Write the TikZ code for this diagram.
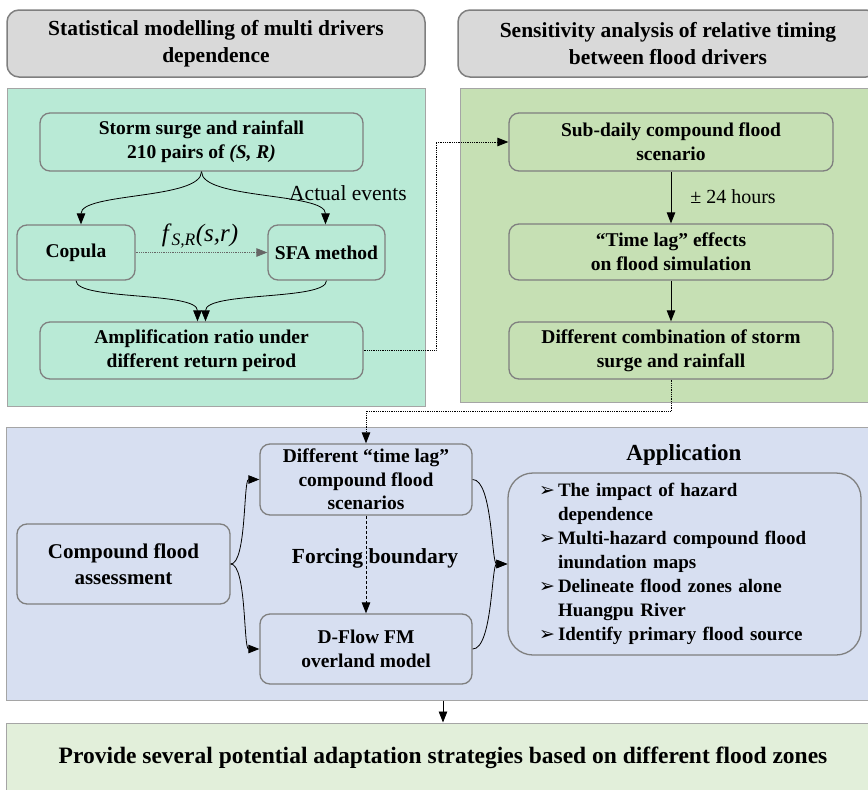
\documentclass[tikz,border=0pt]{standalone}
\usepackage{fontspec}
\setmainfont{Liberation Serif}
\newfontfamily\dejavu{DejaVu Sans}
\usetikzlibrary{arrows.meta,calc}
\definecolor{titlegray}{HTML}{D9D9D9}
\definecolor{bordergray}{HTML}{7F7F7F}
\definecolor{mint}{HTML}{B9EAD6}
\definecolor{olive}{HTML}{C6E0B4}
\definecolor{lblue}{HTML}{D7DFF1}
\definecolor{pgreen}{HTML}{E2EFDA}
\newcommand{\appbul}{\makebox[19pt][l]{\raisebox{0.5pt}{\dejavu\fontsize{19}{19}\selectfont ➢}}}
\begin{document}
\begin{tikzpicture}[x=1pt,y=-1pt,
  titlebox/.style={draw=bordergray, line width=1.5pt, fill=titlegray, rounded corners=12pt,
    align=center, font=\fontsize{21.5}{27}\selectfont\bfseries, inner sep=0pt},
  panel/.style={draw=bordergray!70, line width=1pt, inner sep=0pt},
  box/.style={draw=bordergray, line width=1.3pt, rounded corners=10pt, align=center,
    font=\fontsize{19.5}{24}\selectfont\bfseries, inner sep=0pt},
  arr/.style={-{Triangle[length=11pt,width=8.5pt]}, line width=0.8pt},
  dotarr/.style={arr, densely dotted},
  lbl/.style={inner sep=0pt}
]
\useasboundingbox (0,0) rectangle (868,790);
\clip (0,0) rectangle (868,790);

% titles
\node[titlebox, minimum width=418pt, minimum height=67pt] (t1) at (216,43.5)
  {Statistical modelling of multi drivers\\dependence};
\node[titlebox, minimum width=420pt, minimum height=67pt] (t2) at (668,43.5)
  {Sensitivity analysis of relative timing\\between flood drivers};

% panels
\node[panel, fill=mint, minimum width=418pt, minimum height=318pt] (lpanel) at (216,247) {};
\node[panel, fill=olive, minimum width=420pt, minimum height=314pt] (rpanel) at (670,245) {};
\node[panel, fill=lblue, minimum width=874pt, minimum height=273pt] (bpanel) at (443,563.5) {};
\node[panel, fill=pgreen, minimum width=874pt, minimum height=70pt,
  font=\fontsize{23.5}{26}\selectfont\bfseries] (final) at (443,758)
  {Provide several potential adaptation strategies based on different flood zones};

% left panel boxes
\node[box, fill=mint, minimum width=323pt, minimum height=58pt] (storm) at (201.5,142)
  {Storm surge and rainfall\\210 pairs of \textit{(S, R)}};
\node[box, fill=mint, minimum width=118pt, minimum height=55pt] (copula) at (76,252.5) {Copula};
\node[box, fill=mint, minimum width=117pt, minimum height=55pt] (sfa) at (326.5,252.5) {SFA method};
\node[box, fill=mint, minimum width=323pt, minimum height=57pt] (amp) at (201.5,350.5)
  {Amplification ratio under\\different return peirod};

% right panel boxes
\node[box, fill=olive, minimum width=324pt, minimum height=58pt] (sub) at (671,142)
  {Sub-daily compound flood\\scenario};
\node[box, fill=olive, minimum width=324pt, minimum height=56pt] (lag) at (671,252)
  {“Time lag” effects\\on flood simulation};
\node[box, fill=olive, minimum width=324pt, minimum height=57pt] (comb) at (671,350.5)
  {Different combination of storm\\surge and rainfall};

% lower panel boxes
\node[box, fill=lblue, minimum width=213pt, minimum height=80pt,
  font=\fontsize{21}{26}\selectfont\bfseries] (comp) at (123.5,564)
  {Compound flood\\assessment};
\node[box, fill=lblue, minimum width=212pt, minimum height=71pt,
  font=\fontsize{19.5}{23.5}\selectfont\bfseries] (tl) at (366,479.5)
  {Different “time lag”\\compound flood\\scenarios};
\node[box, fill=lblue, minimum width=212pt, minimum height=70pt] (dflow) at (366,649)
  {D-Flow FM\\overland model};
\node[box, fill=lblue, rounded corners=25pt, minimum width=353pt, minimum height=182pt,
  text width=291pt, align=left, font=\fontsize{19}{24}\selectfont\bfseries] (app) at (684.5,564)
  {\appbul The impact of hazard\\\hspace*{19pt}dependence\\
   \appbul Multi-hazard compound flood\\\hspace*{19pt}inundation maps\\
   \appbul Delineate flood zones alone\\\hspace*{19pt}Huangpu River\\
   \appbul Identify primary flood source};
\node[lbl, font=\fontsize{23}{26}\selectfont\bfseries] (applbl) at (684,455) {Application};

% labels
\node[lbl, font=\fontsize{21.5}{24}\selectfont] (actual) at (348,193) {Actual events};
\node[lbl, font=\fontsize{25}{26}\selectfont] (fsr) at (200,236)
  {\textit{f}\textsubscript{\textit{S,R}}\textit{(s,r)}};
\node[lbl, font=\fontsize{20}{24}\selectfont] (hours) at (733,197) {± 24 hours};
\node[lbl, font=\fontsize{21.5}{24}\selectfont\bfseries] (forcing) at (375,558) {Forcing boundary};

% left connectors
\draw[arr] (storm.south) .. controls +(0,28) and +(0,-32) .. ($(copula.north)+(5,0)$);
\draw[arr] (storm.south) .. controls +(0,28) and +(0,-32) .. ($(sfa.north)+(-1,0)$);
\draw[arr, densely dotted, draw=black!60] (copula.east) -- (sfa.west);
\draw[arr] (copula.south) .. controls +(0,20) and +(0,-30) .. ($(amp.north)+(-4,0)$);
\draw[arr] (sfa.south) .. controls +(0,20) and +(0,-30) .. ($(amp.north)+(4,0)$);

% cross connectors
\draw[dotarr] (amp.east) -| ($(amp.east)!0.5!(sub.west)$) |- (sub.west);
\draw[dotarr] (comb.south) |- ($(tl.north)+(0,-32)$) -- (tl.north);

% right connectors
\draw[arr] (sub.south) -- (lag.north);
\draw[arr] (lag.south) -- (comb.north);

% lower connectors
\draw[arr] (comp.east) .. controls +(16,0) and +(-16,0) .. (tl.west);
\draw[arr] (comp.east) .. controls +(16,0) and +(-16,0) .. (dflow.west);
\draw[arr, densely dashed] (tl.south) -- (dflow.north);
\draw[arr] (tl.east) .. controls +(20,0) and +(-16,0) .. (app.west);
\draw[arr] (dflow.east) .. controls +(20,0) and +(-16,0) .. (app.west);
\draw[arr] (bpanel.south) -- (final.north);
\end{tikzpicture}
\end{document}
